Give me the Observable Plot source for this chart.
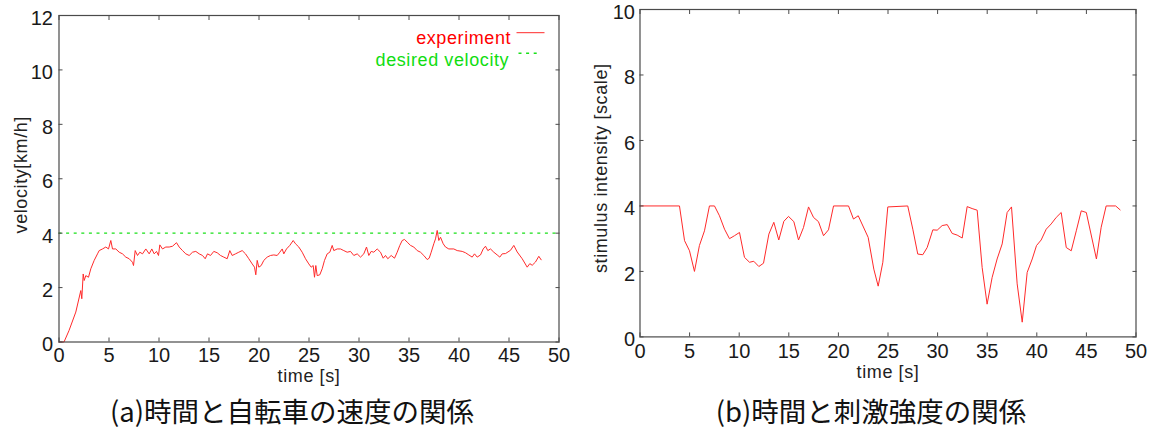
<!DOCTYPE html>
<html>
<head>
<meta charset="utf-8">
<script src="https://cdn.jsdelivr.net/npm/d3@7"></script>
<script src="https://cdn.jsdelivr.net/npm/@observablehq/plot@0.6"></script>
<style>
  html, body { margin: 0; padding: 0; background: #fff; width: 1152px; height: 430px; overflow: hidden; }
  .panel { position: absolute; top: 0; }
  .panel svg { overflow: visible; }
  .caption { position: absolute; top: 397px; font-family: "Noto Sans CJK JP", sans-serif; font-size: 27.5px; line-height: 1; color: #111; white-space: nowrap; transform: translateX(-50%); }
</style>
</head>
<body>
<div id="a" class="panel" style="left:0px"></div>
<div id="b" class="panel" style="left:575px"></div>
<div class="caption" style="left:292px">(a)時間と自転車の速度の関係</div>
<div class="caption" style="left:871px">(b)時間と刺激強度の関係</div>
<script>
// ---- Panel (a): time vs bicycle velocity ----
const timeA = [0,0.5,1.0,1.68,2.18,2.28,2.42,2.52,2.68,2.95,3.18,3.52,3.85,4.02,4.35,4.68,4.95,5.18,5.35,5.68,6.02,6.35,6.68,7.02,7.35,7.45,7.62,7.85,8.08,8.35,8.68,9.02,9.28,9.52,9.75,9.95,10.08,10.35,10.68,11.02,11.35,11.75,12.02,12.35,12.68,13.02,13.35,13.68,14.02,14.35,14.62,14.85,15.15,15.48,15.82,16.15,16.48,16.82,17.08,17.32,17.65,17.98,18.32,18.65,18.98,19.32,19.55,19.68,19.82,19.98,20.22,20.48,20.82,21.15,21.48,21.82,22.08,22.32,22.48,22.75,23.08,23.42,23.65,23.98,24.32,24.65,24.98,25.22,25.42,25.55,25.68,25.82,26.08,26.32,26.55,26.82,27.08,27.32,27.48,27.82,28.15,28.48,28.82,29.15,29.48,29.82,30.15,30.48,30.75,30.98,31.22,31.48,31.82,32.15,32.42,32.65,32.88,33.22,33.55,33.82,34.08,34.32,34.55,34.82,35.15,35.48,35.82,36.15,36.48,36.82,37.02,37.22,37.48,37.65,37.82,37.98,38.15,38.42,38.65,38.98,39.48,39.82,40.32,40.65,40.98,41.32,41.55,41.82,42.15,42.42,42.65,42.88,43.15,43.48,43.82,44.08,44.32,44.65,45.15,45.48,45.82,46.32,46.82,47.08,47.32,47.65,47.98,48.22];
const velocity = [0,0,0.42,1.1,1.89,1.59,2.5,2.26,2.44,2.38,2.69,3.0,3.24,3.36,3.42,3.49,3.42,3.73,3.42,3.42,3.3,3.24,3.12,3.06,2.93,2.81,3.36,3.18,3.3,3.24,3.42,3.24,3.42,3.24,3.33,3.18,3.57,3.42,3.49,3.49,3.52,3.65,3.49,3.36,3.24,3.18,3.3,3.33,3.24,3.18,3.06,3.24,3.18,3.33,3.28,3.18,3.12,3.06,3.36,3.18,3.24,3.3,3.36,3.24,3.06,2.87,2.75,2.47,3.0,2.75,2.81,3.0,3.12,3.18,3.2,3.18,3.3,3.42,3.24,3.42,3.55,3.73,3.61,3.49,3.3,3.06,2.87,2.75,2.81,2.38,2.81,2.44,2.47,2.69,3.0,3.24,3.3,3.55,3.36,3.42,3.42,3.36,3.3,3.33,3.18,3.24,3.12,3.24,3.49,3.18,3.33,3.3,3.42,3.3,3.08,3.18,3.06,3.18,3.08,3.3,3.55,3.73,3.77,3.67,3.55,3.49,3.36,3.3,3.18,3.03,3.08,3.3,3.61,3.79,4.1,3.73,3.85,3.61,3.49,3.42,3.42,3.36,3.33,3.28,3.2,3.12,3.24,3.12,3.2,3.42,3.52,3.36,3.42,3.3,3.2,3.12,3.24,3.25,3.37,3.55,3.31,3.06,2.75,2.88,2.82,2.94,3.15,3.02];
const desiredVelocity = 4;
const xTicksA = [0,5,10,15,20,25,30,35,40,45,50];
const yTicksA = [0,2,4,6,8,10,12];

// ---- Panel (b): time vs stimulus intensity ----
const timeB = [0,3.98,4.49,4.99,5.49,5.99,6.5,7.0,7.51,8.01,8.52,9.02,9.52,10.03,10.53,11.04,11.47,11.98,12.45,12.99,13.49,13.99,14.5,14.97,15.51,15.98,16.48,16.99,17.49,17.99,18.5,19.0,19.51,21.02,21.52,22.0,23.0,23.57,24.01,24.48,24.98,26.99,27.5,28.0,28.51,28.95,29.52,29.96,30.46,30.97,31.47,31.97,32.48,32.98,33.48,33.99,34.49,34.99,35.5,36.0,36.51,37.01,37.45,38.02,38.53,39.03,39.54,39.97,40.44,40.95,41.45,41.96,42.46,42.97,43.47,43.98,44.48,44.99,46.01,46.49,46.99,47.95,48.4];
const stimulus = [4,4,2.94,2.63,2.0,2.79,3.24,4.0,4.0,3.7,3.29,3.0,3.09,3.19,2.43,2.28,2.31,2.15,2.25,3.14,3.5,2.96,3.53,3.68,3.52,2.96,3.34,3.97,3.65,3.52,3.09,3.27,4.0,4.0,3.6,3.7,3.04,2.07,1.55,2.28,3.97,4.0,3.29,2.53,2.51,2.73,3.27,3.26,3.4,3.43,3.16,3.11,3.02,3.98,3.92,3.87,2.12,1.0,1.82,2.38,2.84,3.8,3.97,1.62,0.45,1.97,2.38,2.79,2.96,3.29,3.45,3.65,3.8,2.73,2.63,3.24,3.85,3.8,2.38,3.35,4.0,4.0,3.88];
const xTicksB = [0,5,10,15,20,25,30,35,40,45,50];
const yTicksB = [0,2,4,6,8,10];

const seriesA = timeA.map((t, i) => ({t, v: velocity[i]}));
const seriesB = timeB.map((t, i) => ({t, s: stimulus[i]}));

const frameColor = "#4a4a4a";
const labelFont = "'Liberation Sans', Arial, sans-serif";

function frameAxes(xTicks, yTicks, padX, padY) {
  return [
    Plot.frame({stroke: frameColor, strokeWidth: 1.2}),
    Plot.axisX(xTicks, {anchor: "bottom", tickSize: -4, tickFormat: () => "", label: null, stroke: frameColor}),
    Plot.axisX(xTicks, {anchor: "top", tickSize: -4, tickFormat: () => "", label: null, stroke: frameColor}),
    Plot.axisY(yTicks, {anchor: "left", tickSize: -4, tickFormat: () => "", label: null, stroke: frameColor}),
    Plot.axisY(yTicks, {anchor: "right", tickSize: -4, tickFormat: () => "", label: null, stroke: frameColor}),
    Plot.axisX(xTicks, {anchor: "bottom", tickSize: 0, tickPadding: padX, label: null, fill: "#1a1a1a", fontSize: 20}),
    Plot.axisY(yTicks, {anchor: "left", tickSize: 0, tickPadding: padY, dy: 3, label: null, fill: "#1a1a1a", fontSize: 20})
  ];
}

const chartA = Plot.plot({
  width: 575, height: 392,
  marginLeft: 58.5, marginRight: 16.5, marginTop: 15, marginBottom: 50.5,
  style: {fontFamily: labelFont, fontSize: "18px", color: "#222", background: "transparent"},
  x: {domain: [0, 50]},
  y: {domain: [0, 12]},
  marks: [
    Plot.ruleY([desiredVelocity], {stroke: "#19e019", strokeWidth: 1.4, strokeDasharray: "3,4.6"}),
    Plot.line(seriesA, {x: "t", y: "v", stroke: "#ff2a2a", strokeWidth: 1}),
    ...frameAxes(xTicksA, yTicksA, 6, 6),
    Plot.text(["time [s]"], {text: d => d, frameAnchor: "bottom", textAnchor: "middle", dy: 40, fontSize: 18, fill: "#222"}),
    Plot.text(["velocity[km/h]"], {text: d => d, frameAnchor: "left", textAnchor: "middle", rotate: -90, dx: -38, dy: -4, fontSize: 18, fill: "#222"}),
    Plot.text(["experiment"], {text: d => d, frameAnchor: "top-right", textAnchor: "end", dx: -47.8, dy: 16, fontSize: 18, fill: "#ff0000"}),
    Plot.text(["desired velocity"], {text: d => d, frameAnchor: "top-right", textAnchor: "end", dx: -49.8, dy: 37.5, fontSize: 18, fill: "#11dd11"})
  ]
});
document.getElementById("a").appendChild(chartA);

// legend samples next to the legend text
{
  const sx = chartA.scale("x").range, sy = chartA.scale("y").range;
  const right = Math.max(...sx), top = Math.min(...sy);
  const svg = d3.select(chartA);
  svg.append("line").attr("x1", right - 42).attr("x2", right - 14).attr("y1", top + 17.7).attr("y2", top + 17.7)
    .attr("stroke", "#ff2a2a").attr("stroke-width", 1);
  svg.append("line").attr("x1", right - 40).attr("x2", right - 20).attr("y1", top + 38.3).attr("y2", top + 38.3)
    .attr("stroke", "#19e019").attr("stroke-width", 1.4).attr("stroke-dasharray", "3,4.6");
}

const chartB = Plot.plot({
  width: 577, height: 392,
  marginLeft: 64.5, marginRight: 16.5, marginTop: 9, marginBottom: 55.6,
  style: {fontFamily: labelFont, fontSize: "18px", color: "#222", background: "transparent"},
  x: {domain: [0, 50]},
  y: {domain: [0, 10]},
  marks: [
    Plot.line(seriesB, {x: "t", y: "s", stroke: "#ff2a2a", strokeWidth: 1}),
    ...frameAxes(xTicksB, yTicksB, 7, 5),
    Plot.text(["time [s]"], {text: d => d, frameAnchor: "bottom", textAnchor: "middle", dy: 41, fontSize: 18, fill: "#222"}),
    Plot.text(["stimulus intensity [scale]"], {text: d => d, frameAnchor: "left", textAnchor: "middle", rotate: -90, dx: -39, dy: -5, fontSize: 18, fill: "#222"})
  ]
});
document.getElementById("b").appendChild(chartB);

// slightly wider letter spacing on the label texts to match the reference
for (const c of [chartA, chartB]) {
  d3.select(c).selectAll('g[aria-label="text"] text').style("letter-spacing", "0.6px");
}
</script>
</body>
</html>
